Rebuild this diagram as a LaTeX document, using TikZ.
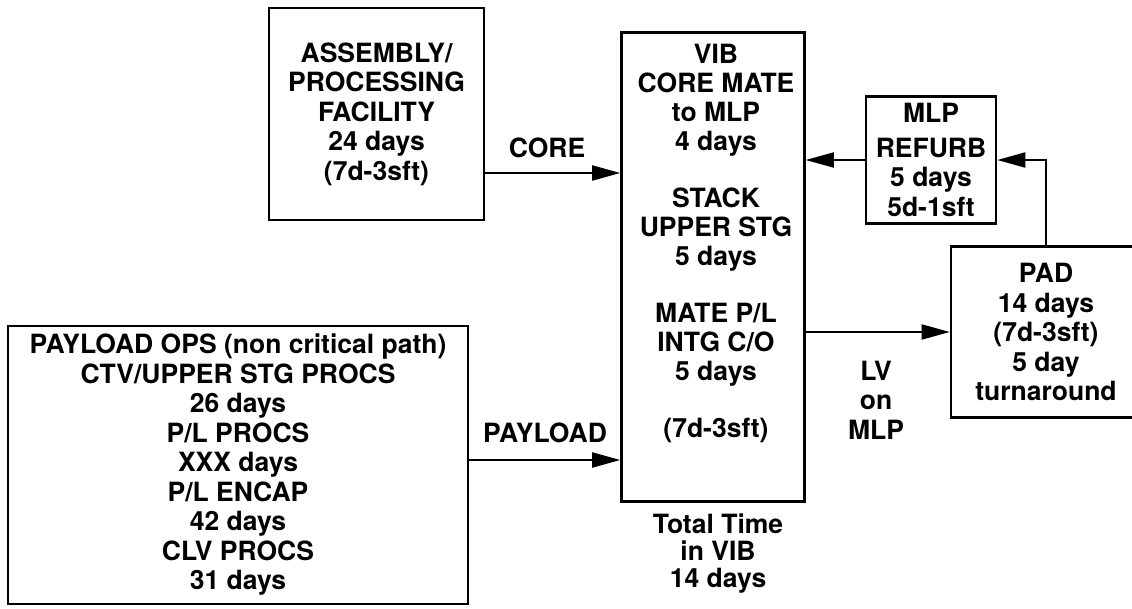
\documentclass[tikz,border=0pt]{standalone}
\usepackage{fontspec}
\setmainfont{TeX Gyre Heros}
\usetikzlibrary{arrows.meta,positioning}

\tikzset{
  box/.style={draw, line width=2.6pt, inner sep=0pt, align=center},
  lbl/.style={align=center, inner sep=0pt},
  arr/.style={line width=2pt, -{Triangle[length=28pt,width=15pt]}},
}

\begin{document}
\begin{tikzpicture}[x=1pt,y=-1pt,font=\fontsize{26.5}{29.5}\selectfont\bfseries]
\clip (0,0) rectangle (1132,608);

% boxes
\node[box, minimum width=215, minimum height=212] (asm) at (376.5,114) {ASSEMBLY/\\PROCESSING\\FACILITY\\24 days\\(7d-3sft)};
\node[box, minimum width=183, minimum height=469] (vib) at (713,267) {};
\node[lbl, font=\fontsize{26.5}{29}\selectfont\bfseries] (vibtxt) at (716,243) {VIB\\CORE MATE\\to MLP\\4 days\\[28pt]STACK\\UPPER STG\\5 days\\[28pt]MATE P/L\\INTG C/O\\5 days\\[28pt](7d-3sft)};
\node[box, minimum width=130, minimum height=127] (mlp) at (931,160) {MLP\\[5pt]REFURB\\5 days\\5d-1sft};
\node[box, minimum width=190, minimum height=171] (pad) at (1046,332) {PAD\\14 days\\(7d-3sft)\\5 day\\turnaround};
\node[box, minimum width=460, minimum height=278] (pay) at (238,465) {PAYLOAD OPS (non critical path)\\CTV/UPPER STG PROCS\\26 days\\P/L PROCS\\XXX days\\P/L ENCAP\\42 days\\CLV PROCS\\31 days};

% labels
\node[lbl] (core) at (547,148) {CORE};
\node[lbl] (payl) at (545,433) {PAYLOAD};
\node[lbl] (lv) at (876,400) {LV\\on\\MLP};
\node[lbl, font=\fontsize{26.5}{27}\selectfont\bfseries] (tot) at (718,554) {Total Time\\in VIB\\14 days};

% flow
\coordinate (coreY) at (0,173);
\coordinate (payY) at (0,460);
\draw[arr] (asm.east |- coreY) -- (vib.west |- coreY);
\draw[arr] (pay.east |- payY) -- (vib.west |- payY);
\draw[arr] (mlp.west) -- (mlp.west -| vib.east);
\draw[arr] (pad.north) |- (mlp.east);
\draw[arr] (vib.east |- pad.west) -- (pad.west);

\end{tikzpicture}
\end{document}
